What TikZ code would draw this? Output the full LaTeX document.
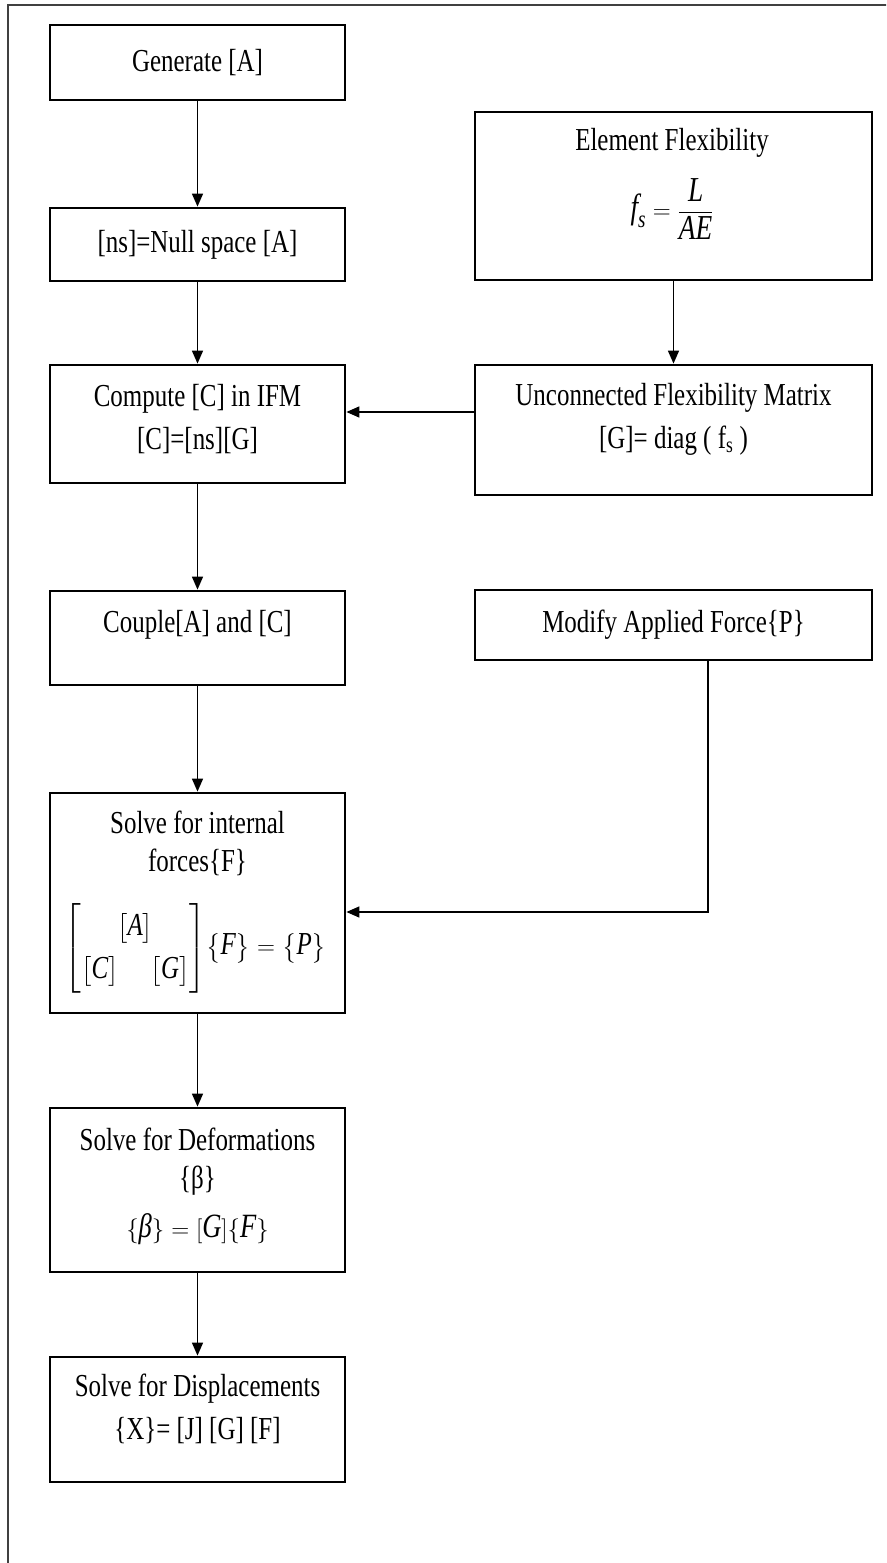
\documentclass[tikz,border=0pt]{standalone}
\usepackage{amsmath}
\usepackage{fontspec}
\setmainfont{Liberation Serif}[FakeStretch=0.78]
\usetikzlibrary{arrows.meta,shadows}
\begin{document}
\begin{tikzpicture}[x=1pt,y=-1pt,
  every node/.style={font=\fontsize{32}{43}\selectfont, inner sep=0pt},
  box/.style={draw, line width=2.8pt, fill=white,
    drop shadow={shadow xshift=1.2pt, shadow yshift=-1.4pt, opacity=0.35, fill=black}},
  lbox/.style={box, minimum width=295pt},
  rbox/.style={box, minimum width=397pt},
  txt/.style={align=center},
  arr/.style={line width=1.5pt, -{Triangle[length=13pt,width=11pt]}},
  frame/.style={line width=1.8pt, draw=black!75}]
\useasboundingbox (0,0) rectangle (886,1563);
\clip (0,0) rectangle (886,1563);
\fill[white] (0,0) rectangle (886,1563);

% page frame
\draw[frame] (8,1600) -- (8,5) -- (900,5);

% left column
\node[lbox, minimum height=75pt] (gen) at (197.5,62.5) {Generate [A]};
\node[lbox, minimum height=73pt] (ns) at (197.5,244.5) {[ns]=Null space [A]};
\node[lbox, minimum height=118pt] (comp) at (197.5,424) {};
\node[txt] (compt) at (197.5,419) {Compute [C] in IFM\\{}[C]=[ns][G]};
\node[lbox, minimum height=94pt] (couple) at (197.5,638) {};
\node (couplet) at (197.5,625) {Couple[A] and [C]};
\node[lbox, minimum height=220pt] (solve) at (197.5,903) {};
\node (solvet1) at (197.5,822) {Solve for internal};
\node (solvet2) at (197.5,862) {forces\{F\}};
\node (solveeq) at (195.5,948) {$\left[\begin{array}{@{}c@{}}\bigl[\textit{A}\bigr]\\ \bigl[\textit{C}\bigr]\quad\bigl[\textit{G}\bigr]\end{array}\right]\!\bigl\{\textit{F}\bigr\}=\bigl\{\textit{P}\bigr\}$};
\node[lbox, minimum height=164pt] (deform) at (197.5,1190) {};
\node (deformt1) at (197.5,1139) {Solve for Deformations};
\node (deformt2) at (197.5,1181) {\{β\}};
\node[font=\fontsize{34}{43}\selectfont] (deformeq) at (197.5,1229) {$\{\textit{β}\}=[\textit{G}]\{\textit{F}\}$};
\node[lbox, minimum height=125pt] (disp) at (197.5,1419.5) {};
\node[txt] (dispt) at (197.5,1409) {Solve for Displacements\\\{X\}= [J] [G] [F]};

% right column
\node[rbox, minimum height=168pt] (elem) at (673.5,196) {};
\node (elemt) at (672,143) {Element Flexibility};
\node[font=\fontsize{35}{43}\selectfont] (elemf) at (672,209) {$\textit{f}_{\textit{s}}=\dfrac{\textit{L}}{\textit{AE}}$};
\node[rbox, minimum height=130pt] (unconn) at (673.5,430) {};
\node[txt] (unconnt) at (673.5,419.5) {Unconnected Flexibility Matrix\\{}[G]= diag ( f\textsubscript{s} )};
\node[rbox, minimum height=70pt] (modify) at (673.5,625) {Modify Applied Force\{P\}};

% connectors
\draw[arr] (gen.south) -- (ns.north);
\draw[arr] (ns.south) -- (comp.north);
\draw[arr] (comp.south) -- (couple.north);
\draw[arr] (couple.south) -- (solve.north);
\draw[arr] (solve.south) -- (deform.north);
\draw[arr] (deform.south) -- (disp.north);
\draw[arr] (elem.south) -- (unconn.north);
\draw[arr] ([yshift=18pt]unconn.west) -- ([yshift=18pt]unconn.west -| comp.east);
\draw[arr] ([xshift=34.5pt]modify.south) |- ([yshift=-9pt]solve.east);
\end{tikzpicture}
\end{document}
